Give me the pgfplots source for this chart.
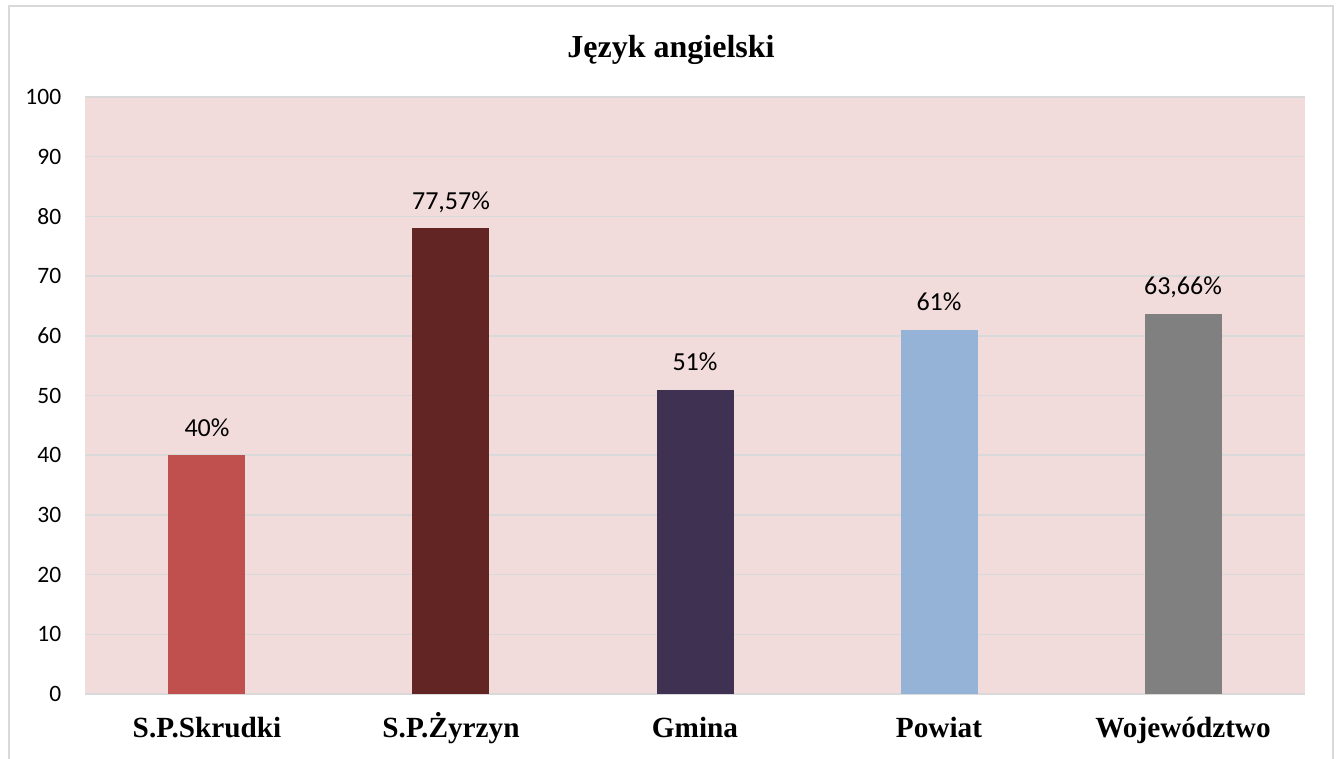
\documentclass[border=0pt]{standalone}
\usepackage{fontspec}
\setmainfont{Liberation Serif}
\newfontfamily\carlito{Carlito}
\usepackage{pgfplots}
\pgfplotsset{compat=1.18}
\definecolor{bgpink}{HTML}{F2DCDB}
\definecolor{gridgray}{HTML}{D9D9D9}
\definecolor{cSkrudki}{HTML}{C0504D}
\definecolor{cZyrzyn}{HTML}{632523}
\definecolor{cGmina}{HTML}{3F3151}
\definecolor{cPowiat}{HTML}{95B3D7}
\definecolor{cWoj}{HTML}{808080}
\begin{document}
\begin{tikzpicture}
  % 1 px of the reference = 0.4pt
  \useasboundingbox (-34pt,-25.6pt) rectangle (502pt,277.6pt);
  \draw[gridgray, line width=0.8pt] (-30.4pt,-40pt) -- (-30.4pt,275.2pt) -- (499.2pt,275.2pt) -- (499.2pt,-40pt);
  \begin{axis}[
    at={(0,0)}, anchor=south west,
    scale only axis,
    width=488pt, height=238.8pt,
    ybar, bar width=30.8pt, bar shift=0pt,
    xmin=-0.5, xmax=4.5, ymin=0, ymax=100,
    xtick={0,1,2,3,4},
    xticklabels={S.P.Skrudki, S.P.Żyrzyn, Gmina, Powiat, Województwo},
    ytick={0,10,...,100},
    axis background/.style={fill=bgpink},
    axis line style={draw=none},
    major tick length=0pt,
    ymajorgrids,
    grid style={gridgray, line width=0.6pt},
    /pgf/number format/assume math mode=true,
    yticklabel style={font=\carlito\fontsize{9.4}{11}\selectfont, xshift=-6pt},
    xticklabel style={font=\bfseries\fontsize{11.7}{14}\selectfont, anchor=base, yshift=-17.2pt},
    title={Język angielski},
    title style={font=\bfseries\fontsize{12.8}{15}\selectfont, anchor=base, at={(0.5,1)}, yshift=10pt, xshift=-9.6pt},
    nodes near coords style={font=\carlito\fontsize{10.4}{12}\selectfont, anchor=base, yshift=7.6pt, black},
  ]
    \addplot[fill=cSkrudki, draw=none, nodes near coords={40\%}] coordinates {(0,40)};
    \addplot[fill=cZyrzyn, draw=none, nodes near coords={77,57\%}] coordinates {(1,78)};
    \addplot[fill=cGmina, draw=none, nodes near coords={51\%}] coordinates {(2,51)};
    \addplot[fill=cPowiat, draw=none, nodes near coords={61\%}] coordinates {(3,61)};
    \addplot[fill=cWoj, draw=none, nodes near coords={63,66\%}] coordinates {(4,63.66)};
  \end{axis}
\end{tikzpicture}
\end{document}
